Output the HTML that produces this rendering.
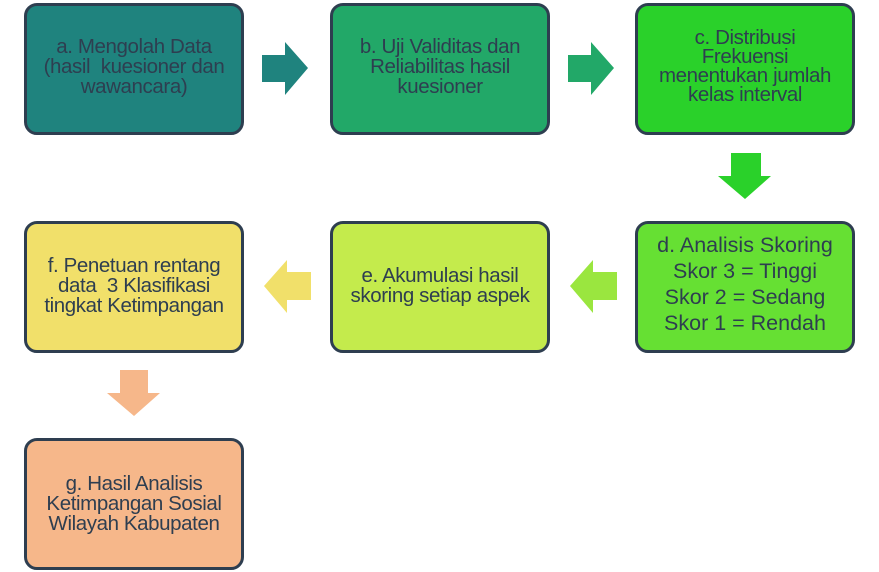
<!DOCTYPE html>
<html><head><style>
body{margin:0;width:879px;height:572px;background:#fff;position:relative;overflow:hidden;font-family:"Liberation Sans",sans-serif}
.b{position:absolute;box-sizing:border-box;width:220px;height:132px;border:3px solid #2e3e50;border-radius:13px;color:#2e3e50;font-size:20.5px;line-height:20px;text-align:center;display:flex;flex-direction:column;justify-content:center;letter-spacing:-0.4px;white-space:nowrap}
svg{position:absolute;left:0;top:0}
</style></head><body>
<div class="b" style="left:24px;top:3px;background:#1f837e;padding-bottom:4px">a. Mengolah Data<br>(hasil&nbsp; kuesioner dan<br>wawancara)</div>
<div class="b" style="left:330px;top:3px;background:#22a868;padding-bottom:4px">b. Uji Validitas dan<br>Reliabilitas hasil<br>kuesioner</div>
<div class="b" style="left:635px;top:3px;background:#2ad12a;line-height:19px;padding-bottom:6px">c. Distribusi<br>Frekuensi<br>menentukan jumlah<br>kelas interval</div>
<div class="b" style="left:635px;top:221px;background:#66e033;line-height:26px;font-size:21.5px;letter-spacing:0;padding-bottom:6px">d. Analisis Skoring<br>Skor 3 = Tinggi<br>Skor 2 = Sedang<br>Skor 1 = Rendah</div>
<div class="b" style="left:330px;top:221px;background:#c4eb4c;padding-bottom:2px">e. Akumulasi hasil<br>skoring setiap aspek</div>
<div class="b" style="left:24px;top:221px;background:#f1e06a;padding-bottom:2px">f. Penetuan rentang<br>data&nbsp; 3 Klasifikasi<br>tingkat Ketimpangan</div>
<div class="b" style="left:24px;top:438px;background:#f6b78a">g. Hasil Analisis<br>Ketimpangan Sosial<br>Wilayah Kabupaten</div>
<svg width="879" height="572">
<polygon points="262,55 285,55 285,42 308,68 285,95 285,82 262,82" fill="#1f837e"/>
<polygon points="568,55 591,55 591,42 614,68 591,95 591,82 568,82" fill="#22a868"/>
<polygon points="731,153 761,153 761,176 771,176 745,199 718,176 731,176" fill="#2ad12a"/>
<polygon points="617,272 593,272 593,260 570,286 593,313 593,300 617,300" fill="#9ae63f"/>
<polygon points="311,272 287,272 287,260 264,286 287,313 287,300 311,300" fill="#f1e06a"/>
<polygon points="120,370 148,370 148,393 160,393 134,416 107,393 120,393" fill="#f6b78a"/>
</svg>
</body></html>
